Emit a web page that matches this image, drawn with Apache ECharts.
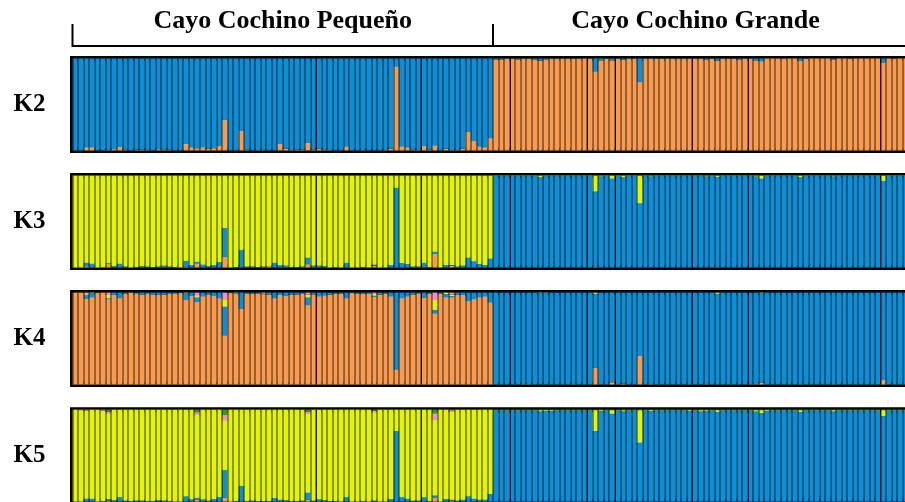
<!DOCTYPE html>
<html><head><meta charset="utf-8">
<script src="https://cdn.jsdelivr.net/npm/echarts@6/dist/echarts.min.js"></script>
<style>html,body{margin:0;padding:0;background:#fff}#c{width:905px;height:502px}</style>
</head><body><div id="c"></div>
<script>
// ---------- labels ----------
const panelLabels = ['K2', 'K3', 'K4', 'K5'];
const groupLabels = ['Cayo Cochino Pequeño', 'Cayo Cochino Grande'];
const nLeft = 76, nRight = 76;
const stackOrder = ['orange', 'blue', 'yellow', 'pink', 'green'];
const clusterColors = { orange: '#fa9a4c', blue: '#0a8fd8', yellow: '#e3f600', pink: '#f08ed2', green: '#2f9a34' };
// population boundaries (individual index where a new sampling site starts)
const popBoundaries = [44, 63, 79, 93, 98, 112, 122, 146];

// ---------- K2 ----------
const k2LeftOrange = [0,0,.03,.03,0,0,.01,.015,.035,.01, 0,.01,.01,.01,0,.015,.01,.01,0,0, .07,.03,.025,.03,.02,.025,.045,.33,0,0, .21,.01,0,.005,.01,0,0,.07,.02,.005, .01,.01,.08,.01,.02,.01,.005,0,0,.04, 0,0,.005,0,0,0,.005,.02,.91,.04, .03,.01,.005,.045,.01,.05,0,.02,.005,.005, .02,.2,.1,.04,.03,.13];
const k2RightBlue = [.01,.01,.005,.005,.01,.005,.005,.01,.025,.01, .005,.005,.005,.005,.005,.005,0,.005,.145,.02, .005,.02,.005,.015,.005,.005,.26,.005,.005,.005, .005,.005,.005,.005,.005,.005,.005,.005,.01,.005, .025,.005,.005,.005,.01,.005,.005,.02,.035,0, 0,0,.005,0,0,.03,.005,0,0,0, 0,.01,0,0,.005,0,0,0,0,0, .05,0,.005,0,0,0];

// ---------- K3 ----------
const k3LeftOrange = [0,0,.015,0,0,.005,.04,0,0,0, 0,0,0,0,0,0,0,0,0,0, .005,0,.04,0,0,0,0,.11,0,0, 0,0,0,0,0,.01,0,0,0,0, 0,0,.03,0,0,0,0,0,0,0, 0,0,0,0,.02,0,0,0,0,0, 0,0,0,0,0,.145,0,0,.02,0, 0,0,0,0,0,0];
const k3LeftBlue = [0,0,.04,.045,0,0,.01,.015,.045,.01, 0,.005,.015,.01,.005,.01,.02,.01,.005,0, .07,.03,.025,.035,.015,.03,.06,.32,0,.005, .195,.01,.01,.005,.01,0,.055,.03,.02,.005, .005,.01,.08,.02,.02,.015,0,.005,0,.055, 0,0,.005,0,.015,0,0,.03,.87,.05, .04,.01,.01,.05,.005,.03,0,.03,.01,.01, .02,.11,.07,.04,.025,.1];
const k3RightOrange = [0,0,0,0,0,0,0,0,0,0, 0,0,0,0,0,0,0,0,.005,0, 0,0,0,0,0,0,0,0,0,0, 0,0,0,0,0,0,0,0,0,0, .005,0,0,0,0,0,0,0,0,0, 0,0,0,0,0,0,0,0,0,0, 0,0,0,0,0,0,0,0,0,0, 0,0,0,0,0,0];
const k3RightYellow = [.005,.005,.005,.005,.005,.005,.005,.005,.02,.005, .005,.005,.005,.005,.005,.005,.005,.005,.17,.01, .005,.03,.005,.02,.005,.005,.3,.005,.01,.005, .005,.005,.005,.005,.005,.005,.005,.005,.01,.005, .015,.005,.005,.005,.005,.005,.005,.01,.03,.005, .005,.005,.005,.005,.005,.02,.005,.005,.005,.005, .005,.01,.005,.005,.005,.005,.005,.005,.005,.005, .055,.005,.005,.005,.005,.005];

// ---------- K4 ----------
const k4LeftBlue = [0,0,.045,.05,.005,0,.015,.03,.065,.01, 0,.015,.025,.015,.02,.03,.02,.015,.015,.005, .075,.04,.055,.045,.02,.04,.065,.32,.005,.01, .18,.01,.01,.01,0,.02,.065,.03,.04,.025, .02,.015,.09,.02,.045,.035,.025,.01,.01,.065, .005,.01,.01,.015,.02,.02,.01,.045,.84,.065, .045,.02,.015,.06,.01,.045,.01,.04,.02,.02, .03,.095,.075,.055,.045,.11];
const k4LeftYellow = [0,0,.01,.005,0,0,.03,0,0,0, 0,0,0,0,0,0,0,0,0,0, .005,0,.015,0,0,0,0,.07,0,.005, 0,0,0,0,.01,0,0,0,0,0, 0,0,.03,0,0,0,0,0,0,0, 0,0,0,0,.015,0,0,0,0,0, 0,0,0,0,0,.1,0,.015,.015,0, 0,0,0,0,0,0];
const k4LeftPink = [0,0,.015,0,0,0,.03,0,0,0, 0,0,0,0,0,0,0,0,0,0, 0,0,.035,0,0,0,0,.08,0,0, 0,0,0,0,.01,0,0,0,0,0, 0,0,.02,0,0,0,0,0,0,0, 0,0,0,0,.015,0,0,0,0,0, 0,0,0,0,0,.085,0,0,.02,0, 0,0,0,0,0,0];
const k4RightOrange = [0,0,0,0,0,.005,.005,0,0,0, 0,0,0,0,.005,0,0,0,.18,0, 0,.025,0,.01,0,0,.31,0,.005,0, 0,0,0,0,0,.005,0,0,.005,0, 0,0,0,0,0,0,.005,.005,.02,0, 0,0,0,0,0,.005,0,0,0,0, 0,.005,0,0,0,0,0,0,0,0, .045,0,0,0,0,0];
const k4RightYellow = [0,0,0,0,0,0,0,0,.005,0, 0,0,0,0,0,0,0,0,.01,0, 0,0,0,0,0,0,0,0,0,0, 0,0,0,0,0,0,0,0,0,0, .01,0,0,0,0,0,0,0,.005,0, 0,0,0,0,0,0,0,0,0,0, 0,0,0,0,0,0,0,0,0,0, 0,0,0,0,0,0];
const k4RightPink = [0,0,0,0,0,0,0,0,0,.005, 0,0,0,0,0,0,0,0,.005,0, 0,0,0,0,0,0,0,0,0,0, 0,0,0,0,0,0,0,0,0,0, .005,0,0,0,0,0,0,0,0,0, 0,0,0,0,0,0,0,0,0,0, 0,0,0,0,0,0,0,0,0,0, 0,0,0,0,0,0];

// ---------- K5 ----------
const k5LeftOrange = [0,0,0,0,0,0,.01,0,0,0, 0,0,0,0,0,0,0,0,0,0, 0,0,.02,0,0,0,0,.035,0,0, 0,0,0,0,0,0,0,0,0,0, 0,0,.02,0,0,0,0,0,0,0, 0,0,0,0,0,0,0,0,0,0, 0,0,0,0,0,.035,0,0,.01,0, 0,0,0,0,0,0];
const k5LeftBlue = [0,0,.035,.035,0,.005,.02,.015,.05,.01, .005,.01,.01,.005,.005,.015,.01,.005,0,0, .06,.025,.025,.025,.01,.03,.05,.31,0,.005, .17,.005,.01,.005,.005,.005,.04,.02,.015,.005, .005,.01,.08,.01,.025,.015,.005,.005,0,.05, 0,0,.005,0,.01,0,0,.03,.77,.05, .035,.01,.01,.05,.005,.035,0,.03,.01,.01, .02,.06,.035,.02,.02,.085];
const k5LeftPink = [0,.005,.01,0,0,.01,.025,0,0,0, 0,0,0,0,0,0,0,0,0,0, 0,0,.03,0,0,0,0,.06,0,0, 0,0,0,0,0,0,0,0,0,0, 0,0,.03,0,0,0,0,0,0,0, 0,0,0,0,.02,0,0,0,0,0, 0,0,0,0,0,.07,0,0,.02,0, 0,0,0,0,0,0];
const k5LeftGreen = [0,0,0,0,0,0,.02,0,0,0, 0,0,0,0,0,0,0,0,0,0, 0,0,.03,0,0,0,0,.06,0,0, 0,0,0,0,0,0,0,0,0,0, 0,0,.02,0,0,0,0,0,0,0, 0,0,0,0,.01,0,0,0,0,0, 0,0,0,0,0,.045,0,0,.005,0, 0,0,0,0,0,0];
const k5RightYellow = [.005,.005,.005,.005,.005,.005,.005,.005,.015,.01, .01,.005,.005,.005,.005,.005,.005,.005,.225,.01, .005,.035,.005,.015,.005,.005,.35,.005,.01,.005, .005,.005,.005,.005,.005,.01,.005,.015,.01,.005, .02,.005,.005,.005,.005,.005,.005,.015,.03,.01, .005,.005,.005,.005,.005,.02,.005,.005,.005,.005, .005,.015,.005,.005,.005,.005,.005,.005,.005,.005, .06,.005,.005,.005,.005,.005];
const k5RightGreen = [.005,.005,.005,.005,.005,.005,.005,.005,.005,.005, .005,.005,.005,.005,.005,.005,.005,.005,.005,.005, .005,.005,.005,.005,.005,.005,.005,.005,.005,.005, .005,.005,.005,.005,.005,.005,.005,.005,.005,.005, .005,.005,.005,.005,.005,.005,.005,.005,.005,.005, .005,.005,.005,.005,.005,.005,.005,.005,.005,.005, .005,.005,.005,.005,.005,.005,.005,.005,.005,.005, .005,.005,.005,.005,.005,.005];

// panel membership: dominant cluster of each group is the remainder of its row (Q rows sum to 1)
const panels = [
  { clusters: ['orange','blue'], leftDom: 'blue', leftMinor: { orange: k2LeftOrange }, rightDom: 'orange', rightMinor: { blue: k2RightBlue } },
  { clusters: ['orange','blue','yellow'], leftDom: 'yellow', leftMinor: { orange: k3LeftOrange, blue: k3LeftBlue }, rightDom: 'blue', rightMinor: { orange: k3RightOrange, yellow: k3RightYellow } },
  { clusters: ['orange','blue','yellow','pink'], leftDom: 'orange', leftMinor: { blue: k4LeftBlue, yellow: k4LeftYellow, pink: k4LeftPink }, rightDom: 'blue', rightMinor: { orange: k4RightOrange, yellow: k4RightYellow, pink: k4RightPink } },
  { clusters: ['orange','blue','yellow','pink','green'], leftDom: 'yellow', leftMinor: { orange: k5LeftOrange, blue: k5LeftBlue, pink: k5LeftPink, green: k5LeftGreen }, rightDom: 'blue', rightMinor: { yellow: k5RightYellow, green: k5RightGreen } }
];

function groupValues(clusters, dom, minor, n) {
  const out = {};
  clusters.forEach(c => { out[c] = new Array(n).fill(0); });
  Object.keys(minor).forEach(c => { out[c] = minor[c].slice(0, n); });
  for (let j = 0; j < n; j++) {
    let s = 0;
    Object.keys(minor).forEach(c => { s += minor[c][j]; });
    out[dom][j] = +(1 - s).toFixed(4);
  }
  return out;
}

// ---------- layout ----------
const gridLeft = 72.5, barW = 5.533, nTotal = nLeft + nRight;
const gridW = barW * nTotal, gridH = 92, gridTop0 = 58.5, gridStep = 117.05;
const categories = Array.from({ length: nTotal }, (_, i) => 'ind' + (i + 1));

const grids = [], xAxes = [], yAxes = [], series = [], graphics = [];
panels.forEach((p, k) => {
  const top = gridTop0 + gridStep * k;
  grids.push({ left: gridLeft, top: top, width: gridW, height: gridH, outerBoundsMode: 'none', containLabel: false,
    show: true, borderColor: '#000', borderWidth: 5, backgroundColor: 'transparent' });
  xAxes.push({ type: 'category', gridIndex: k, data: categories, boundaryGap: true, z: 10,
    axisLine: { show: false }, axisTick: { show: false }, axisLabel: { show: false },
    splitLine: { show: true, interval: 0, lineStyle: { color: 'rgba(0,0,0,0.45)', width: 1.8 } } });
  yAxes.push({ type: 'value', gridIndex: k, min: 0, max: 1, show: false });
  const L = groupValues(p.clusters, p.leftDom, p.leftMinor, nLeft);
  const R = groupValues(p.clusters, p.rightDom, p.rightMinor, nRight);
  stackOrder.filter(c => p.clusters.includes(c)).forEach(c => {
    series.push({ type: 'bar', xAxisIndex: k, yAxisIndex: k, stack: 'K' + k, barCategoryGap: '0%', barGap: '0%',
      itemStyle: { color: clusterColors[c] }, silent: true, animation: false, z: 2,
      data: L[c].concat(R[c]) });
  });
  series.push({ type: 'custom', xAxisIndex: k, yAxisIndex: k, z: 11, silent: true, animation: false,
    data: popBoundaries.map(b => [b]),
    renderItem: function (params, api) {
      const c = api.coord([api.value(0), 1]);
      const band = api.size([1, 0])[0];
      const x = Math.round(c[0] - band / 2) + 0.5;
      const cs = params.coordSys;
      return { type: 'line', shape: { x1: x, y1: cs.y, x2: x, y2: cs.y + cs.height }, style: { stroke: 'rgba(0,0,0,0.85)', lineWidth: 1 } };
    } });
  graphics.push({ type: 'text', x: 29.5, y: top + gridH / 2, style: { text: panelLabels[k], font: 'bold 25px "Liberation Serif"', fill: '#000', textAlign: 'center', textVerticalAlign: 'middle' } });
});

// header bracket and group labels
const splitX = gridLeft + barW * nLeft;
const rightEnd = gridLeft + gridW;
graphics.push({ type: 'polyline', shape: { points: [[gridLeft, 24], [gridLeft, 46], [rightEnd, 46]] }, style: { stroke: '#000', lineWidth: 2, fill: null } });
graphics.push({ type: 'line', shape: { x1: splitX, y1: 24, x2: splitX, y2: 46 }, style: { stroke: '#000', lineWidth: 2 } });
graphics.push({ type: 'text', x: (gridLeft + splitX) / 2, y: 21, style: { text: groupLabels[0], font: 'bold 26px "Liberation Serif"', fill: '#000', textAlign: 'center', textVerticalAlign: 'middle' } });
graphics.push({ type: 'text', x: 695.5, y: 21, style: { text: groupLabels[1], font: 'bold 26px "Liberation Serif"', fill: '#000', textAlign: 'center', textVerticalAlign: 'middle' } });

const chart = echarts.init(document.getElementById('c'), null, { renderer: 'canvas' });
chart.setOption({
  animation: false,
  backgroundColor: '#fff',
  grid: grids, xAxis: xAxes, yAxis: yAxes, series: series,
  graphic: graphics
});
</script></body></html>
